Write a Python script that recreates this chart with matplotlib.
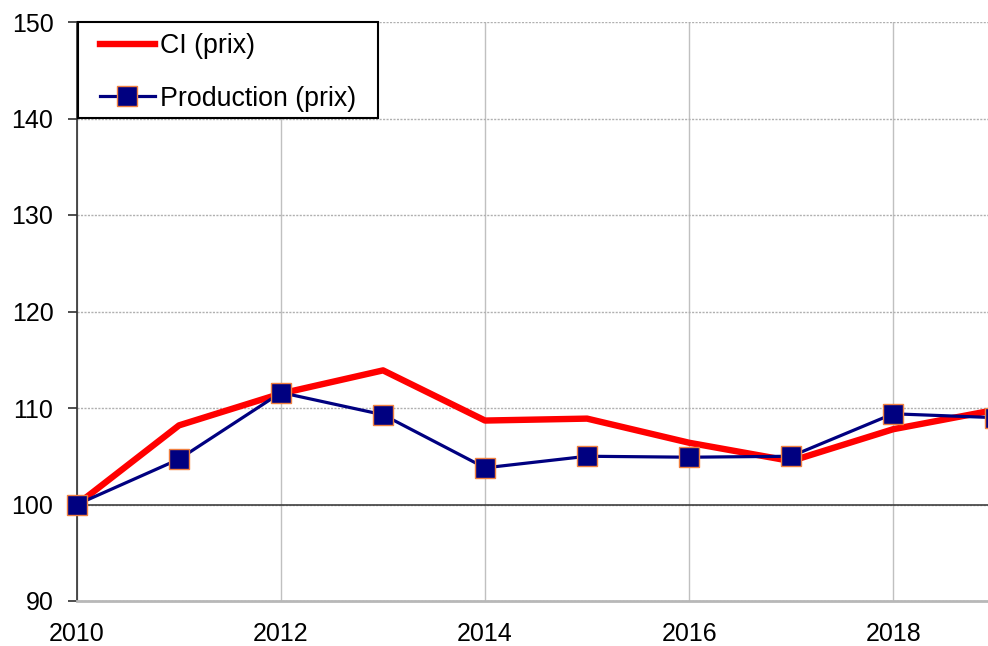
import matplotlib
matplotlib.use("Agg")
import matplotlib.pyplot as plt
from matplotlib.patches import Rectangle

years = [2010, 2011, 2012, 2013, 2014, 2015, 2016, 2017, 2018, 2019]
ci_prix = [100.0, 108.2, 111.5, 113.9, 108.7, 108.9, 106.4, 104.5, 107.8, 109.8]
production_prix = [100.0, 104.7, 111.6, 109.3, 103.8, 105.0, 104.9, 105.0, 109.4, 109.0]
xticks = [2010, 2012, 2014, 2016, 2018]
yticks = [90, 100, 110, 120, 130, 140, 150]

plt.rcParams['font.family'] = ['Liberation Sans', 'DejaVu Sans']

W, H = 988, 646
fig = plt.figure(figsize=(W/100, H/100), dpi=100)
ax = fig.add_axes([77/W, 1-601/H, 1-77/W, (601-22)/H])

ax.set_xlim(2010, 2018.93)
ax.set_ylim(90, 150)
ax.set_xticks(xticks)
ax.set_yticks(yticks)

ax.grid(True, axis='x', color='#c0c0c0', linewidth=1.0)
ax.grid(True, axis='y', color='#b0b0b0', linewidth=1.0, linestyle=(0, (1.5, 1)))
ax.set_axisbelow(True)
ax.axhline(100, color='#404040', linewidth=1.2, zorder=1.5)

ax.plot(years, ci_prix, color='#ff0000', linewidth=4.6, label='CI (prix)', zorder=3, clip_on=True)
ax.plot(years, production_prix, color='#000080', linewidth=2.3, marker='s', markersize=15,
        markerfacecolor='#000080', markeredgecolor='#f08040', markeredgewidth=1.0,
        label='Production (prix)', zorder=4, clip_on=False)

for s in ['top', 'right']:
    ax.spines[s].set_visible(False)
ax.spines['left'].set_color('#303030')
ax.spines['left'].set_linewidth(1.2)
ax.spines['bottom'].set_color('#b8b8b8')
ax.spines['bottom'].set_linewidth(2.0)

ax.tick_params(axis='y', direction='out', length=6.5, width=1.2, labelsize=18, pad=10.5,
               color='#303030', labelcolor='#000000')
ax.tick_params(axis='x', length=0, labelsize=18, pad=15)

# legend box (frame drawn separately)
ax.add_patch(Rectangle((78/W, 1-118/H), 300/W, 96/H, transform=fig.transFigure,
                       facecolor='white', edgecolor='black', linewidth=1.5, zorder=9,
                       clip_on=False))
leg = ax.legend(loc='upper left', bbox_to_anchor=(100/W, 1-33/H), bbox_transform=fig.transFigure,
                fontsize=19.3, frameon=False, borderpad=0.0, handlelength=2.05,
                labelspacing=0.99, handletextpad=0.19, borderaxespad=0.0)
leg.set_zorder(10)

fig.savefig('out.png', dpi=100)
